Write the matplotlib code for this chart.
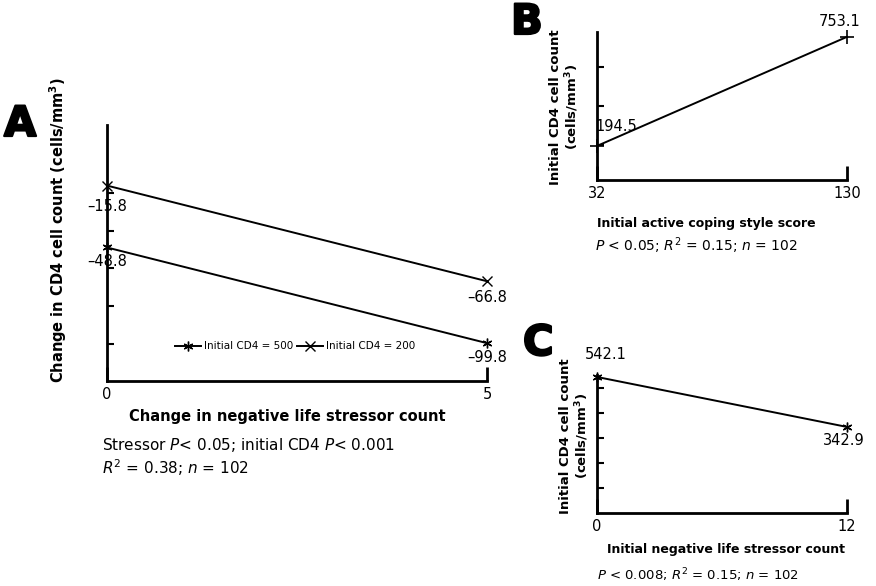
import matplotlib.pyplot as plt
import matplotlib.patheffects as pe

plt.rcParams['font.family'] = ['DejaVu Sans']
plt.rcParams['mathtext.fontset'] = 'dejavusans'

# Panel A: change in CD4 vs change in stressor count
a_x = [0, 5]
a_cd4_500 = [-48.8, -99.8]
a_cd4_200 = [-15.8, -66.8]
a_yticks = [-20, -40, -60, -80, -100]

# Panel B: initial CD4 vs active coping score
b_x = [32, 130]
b_y = [194.5, 753.1]
b_yticks = [200, 400, 600]

# Panel C: initial CD4 vs negative life stressor count
c_x = [0, 12]
c_y = [542.1, 342.9]
c_yticks = [100, 200, 300, 400, 500]

W, H = 876, 586
fig = plt.figure(figsize=(W / 100, H / 100), dpi=100)

lw = 1.4
fs = 10.5
star = (6, 2, 0)
heavy = [pe.withStroke(linewidth=1.6, foreground='black')]


def px(x, y):
    # pixel position -> figure fraction
    return x / W, 1 - y / H


def style(ax, xticks, yticks):
    for s in ['top', 'right']:
        ax.spines[s].set_visible(False)
    for s in ['left', 'bottom']:
        ax.spines[s].set_linewidth(2)
    ax.set_xticks(xticks)
    ax.set_yticks(yticks)
    ax.set_yticklabels([])
    ax.tick_params(axis='y', direction='in', length=5, width=1.5)
    ax.tick_params(axis='x', direction='in', length=10, width=2, labelsize=fs, pad=4)


def neg(v):
    return f'\u2013{abs(v)}'


def label(x, y, s, size, rot=0, bold=True, ha='center', **kw):
    fig.text(*px(x, y), s, fontsize=size, rotation=rot, ha=ha, va='center',
             fontweight='bold' if bold else 'normal', **kw)


# ---- A ----
axA = fig.add_axes([0.1221, 0.3498, 0.4338, 0.4369])
axA.plot(a_x, a_cd4_500, color='black', lw=lw, marker=star, ms=7, mew=1,
         label='Initial CD4 = 500', clip_on=False, zorder=3)
axA.plot(a_x, a_cd4_200, color='black', lw=lw, marker='x', ms=7, mew=1,
         label='Initial CD4 = 200', clip_on=False, zorder=3)
axA.set_xlim(0, 5)
axA.set_ylim(-120, 16.5)
style(axA, a_x, a_yticks)
axA.annotate(neg(a_cd4_200[0]), (0, a_cd4_200[0]), xytext=(0, -15), textcoords='offset points',
             ha='center', va='center', fontsize=fs)
axA.annotate(neg(a_cd4_500[0]), (0, a_cd4_500[0]), xytext=(0, -10), textcoords='offset points',
             ha='center', va='center', fontsize=fs)
axA.annotate(neg(a_cd4_200[1]), (5, a_cd4_200[1]), xytext=(0, -12), textcoords='offset points',
             ha='center', va='center', fontsize=fs)
axA.annotate(neg(a_cd4_500[1]), (5, a_cd4_500[1]), xytext=(0, -10), textcoords='offset points',
             ha='center', va='center', fontsize=fs)
axA.legend(loc='center', bbox_to_anchor=(0.495, 0.136), ncol=2, frameon=False, fontsize=7.5,
           handlelength=2.5, handletextpad=0.3, columnspacing=0.4)
label(58, 230, 'Change in CD4 cell count (cells/mm$^\\mathbf{3}$)', 10.5, rot=90)
label(287, 416, 'Change in negative life stressor count', 10.5)
label(102, 445, 'Stressor $P$< 0.05; initial CD4 $P$< 0.001', 11, bold=False, ha='left')
label(102, 468, '$R^2$ = 0.38; $n$ = 102', 11, bold=False, ha='left')
label(4, 124, 'A', 30, ha='left', path_effects=heavy)

# ---- B ----
axB = fig.add_axes([0.6815, 0.6928, 0.2854, 0.2526])
axB.plot(b_x, b_y, color='black', lw=lw, marker='+', ms=10, mew=1.2, clip_on=False, zorder=3)
axB.set_xlim(32, 130)
axB.set_ylim(20, 778)
style(axB, b_x, b_yticks)
axB.annotate(f'{b_y[0]}', (b_x[0], b_y[0]), xytext=(14, 14), textcoords='offset points',
             ha='center', va='center', fontsize=fs)
axB.annotate(f'{b_y[1]}', (b_x[1], b_y[1]), xytext=(-5, 11), textcoords='offset points',
             ha='center', va='center', fontsize=fs)
label(565, 107, 'Initial CD4 cell count\n(cells/mm$^\\mathbf{3}$)', 9.5, rot=90, linespacing=1.1)
label(706, 223, 'Initial active coping style score', 9)
label(595, 246, '$P$ < 0.05; $R^2$ = 0.15; $n$ = 102', 10, bold=False, ha='left')
label(511, 22, 'B', 30, ha='left', path_effects=heavy)

# ---- C ----
axC = fig.add_axes([0.6815, 0.1246, 0.2854, 0.2355])
axC.plot(c_x, c_y, color='black', lw=lw, marker=star, ms=7, mew=1, clip_on=False, zorder=3)
axC.set_xlim(0, 12)
axC.set_ylim(0, 550)
style(axC, c_x, c_yticks)
axC.annotate(f'{c_y[0]}', (c_x[0], c_y[0]), xytext=(6, 16), textcoords='offset points',
             ha='center', va='center', fontsize=fs)
axC.annotate(f'{c_y[1]}', (c_x[1], c_y[1]), xytext=(-2, -10), textcoords='offset points',
             ha='center', va='center', fontsize=fs)
label(575, 436, 'Initial CD4 cell count\n(cells/mm$^\\mathbf{3}$)', 9.5, rot=90, linespacing=1.1)
label(726, 550, 'Initial negative life stressor count', 9)
label(597, 575, '$P$ < 0.008; $R^2$ = 0.15; $n$ = 102', 9.5, bold=False, ha='left')
label(523, 343, 'C', 30, ha='left', path_effects=heavy)

fig.savefig('out.png', dpi=100)
